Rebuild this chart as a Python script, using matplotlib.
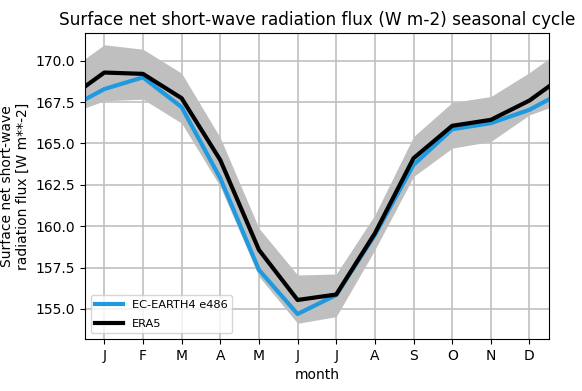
import numpy as np
import matplotlib
matplotlib.use("Agg")
import matplotlib.pyplot as plt

months = np.arange(1, 13)
month_labels = ["J", "F", "M", "A", "M", "J", "J", "A", "S", "O", "N", "D"]

era5 = [169.29, 169.21, 167.74, 164.0, 158.57, 155.54, 155.87, 159.57, 164.11, 166.07, 166.43, 167.6]
ecearth = [168.29, 169.0, 167.2, 162.9, 157.36, 154.69, 155.84, 159.47, 163.71, 165.86, 166.23, 167.04]
era5_hi = [170.97, 170.7, 169.25, 165.35, 159.88, 157.05, 157.11, 160.68, 165.42, 167.48, 167.84, 169.29]
era5_lo = [167.58, 167.68, 166.23, 162.4, 156.96, 154.13, 154.53, 158.57, 163.0, 164.72, 165.12, 166.73]


def cyc(a):
    # wrap December before January and January after December
    a = np.asarray(a)
    return np.concatenate([a[-1:], a, a[:1]])


x = np.arange(0, 14)

fig = plt.figure(figsize=(5.82, 3.91), dpi=100)
ax = fig.add_axes([0.146, 0.133, 0.797, 0.783])

ax.fill_between(x, cyc(era5_lo), cyc(era5_hi), color="grey", alpha=0.5, linewidth=0)
ax.plot(x, cyc(ecearth), color="#1f9ae0", lw=3, label="EC-EARTH4 e486")
ax.plot(x, cyc(era5), color="black", lw=3, label="ERA5")

ax.set_xlim(0.5, 12.5)
ax.set_ylim(153.18, 171.69)
ax.set_xticks(months)
ax.set_xticklabels(month_labels)
ax.grid(True, color="#c0c0c0", lw=1.2)
ax.set_xlabel("month")
ax.set_ylabel("Surface net short-wave\nradiation flux [W m**-2]")
ax.set_title("Surface net short-wave radiation flux (W m-2) seasonal cycle", fontsize=12.2)
ax.legend(loc="lower left", fontsize=8.2, labelspacing=0.8, handlelength=2.4)

fig.savefig("out.png", dpi=100)
